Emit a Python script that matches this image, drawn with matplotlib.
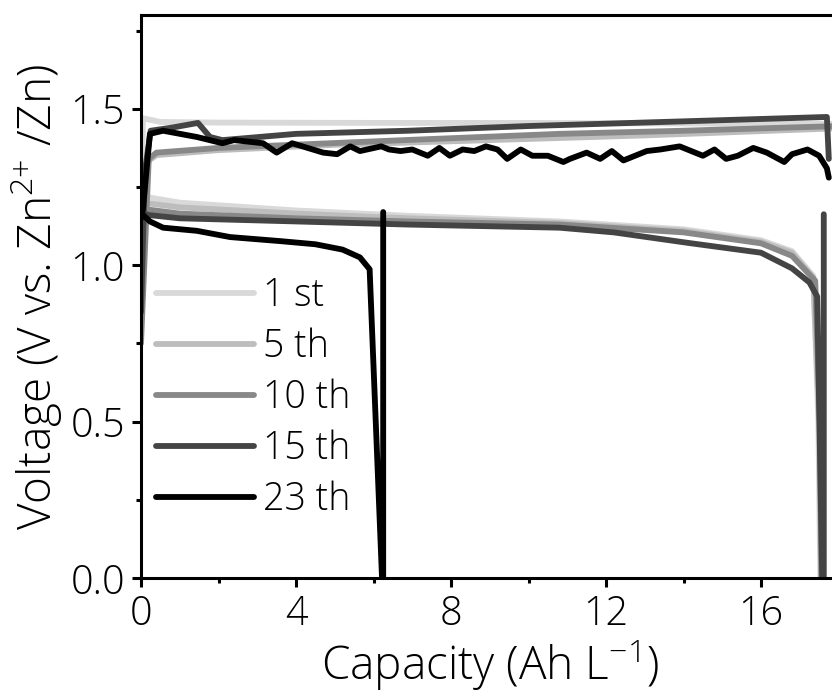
import matplotlib
matplotlib.use("Agg")
import matplotlib.pyplot as plt
from matplotlib.ticker import MultipleLocator

plt.rcParams['font.family'] = ['Open Sans', 'DejaVu Sans']
plt.rcParams['font.weight'] = 'light'
plt.rcParams['axes.labelweight'] = 'light'
plt.rcParams['mathtext.default'] = 'regular'

# Cycle labels and grey levels
cycles = ["1 st", "5 th", "10 th", "15 th", "23 th"]
colors = ["#d9d9d9", "#bdbdbd", "#888888", "#444444", "#000000"]

# Charge curves (capacity in Ah/L, voltage in V)
ch_cap_1 = [0, 0.05, 0.5, 2, 6, 10, 14, 18]
ch_v_1 = [1.10, 1.47, 1.458, 1.456, 1.455, 1.455, 1.453, 1.452]

ch_cap_5 = [0, 0.15, 0.4, 2, 5, 9, 13, 18]
ch_v_5 = [0.80, 1.33, 1.352, 1.368, 1.385, 1.40, 1.415, 1.438]

ch_cap_10 = [0, 0.2, 0.4, 2, 6.8, 10.8, 14, 18]
ch_v_10 = [0.75, 1.34, 1.36, 1.375, 1.40, 1.42, 1.43, 1.445]

ch_cap_15 = [0, 0.1, 0.25, 0.8, 1.47, 1.78, 2.1, 4, 6.9, 10, 14, 17.7, 17.75]
ch_v_15 = [0.85, 1.30, 1.43, 1.44, 1.455, 1.41, 1.40, 1.42, 1.43, 1.445, 1.46, 1.474, 1.34]

ch_cap_23 = [0, 0.05, 0.23, 0.57, 1.44, 2.1, 2.4, 3.15, 3.5, 3.9, 4.7, 5.06, 5.4,
             5.65, 6.2, 6.4, 6.7, 7.0, 7.4, 7.7, 7.97, 8.3, 8.6, 8.9, 9.2, 9.45,
             9.8, 10.1, 10.5, 10.9, 11.07, 11.5, 11.85, 12.15, 12.45, 13.05, 13.4,
             13.9, 14.5, 14.8, 15.1, 15.4, 15.8, 16.15, 16.6, 16.8, 17.2, 17.5,
             17.7, 17.75]
ch_v_23 = [1.15, 1.18, 1.42, 1.43, 1.41, 1.39, 1.40, 1.39, 1.36, 1.39, 1.36, 1.355,
           1.38, 1.365, 1.38, 1.37, 1.365, 1.37, 1.35, 1.375, 1.35, 1.37, 1.365,
           1.38, 1.37, 1.34, 1.37, 1.35, 1.35, 1.33, 1.34, 1.36, 1.34, 1.365,
           1.335, 1.365, 1.37, 1.38, 1.35, 1.37, 1.34, 1.35, 1.375, 1.36, 1.33,
           1.355, 1.37, 1.35, 1.31, 1.28]

# Discharge curves
dis_cap_1 = [0, 0.05, 1, 4, 6.9, 10.8, 14, 16, 16.8, 17.35, 17.48, 17.53]
dis_v_1 = [1.23, 1.22, 1.20, 1.175, 1.158, 1.14, 1.115, 1.08, 1.045, 0.965, 0.5, 0.0]

dis_cap_5 = [0, 0.05, 1, 4, 6.9, 10.8, 14, 16, 16.8, 17.35, 17.5, 17.55]
dis_v_5 = [1.21, 1.20, 1.185, 1.165, 1.15, 1.135, 1.11, 1.075, 1.04, 0.96, 0.5, 0.0]

dis_cap_10 = [0, 0.05, 1, 4, 6.9, 10.8, 14, 16, 16.8, 17.4, 17.52, 17.56]
dis_v_10 = [1.19, 1.18, 1.165, 1.15, 1.14, 1.13, 1.105, 1.07, 1.03, 0.95, 0.5, 0.0]

dis_cap_15 = [0, 0.05, 0.23, 1, 4, 6.9, 10.8, 12.2, 14.2, 16, 16.8, 17.25, 17.45,
              17.58, 17.62, 17.62]
dis_v_15 = [1.17, 1.165, 1.16, 1.15, 1.14, 1.13, 1.12, 1.105, 1.07, 1.04, 0.99,
            0.945, 0.90, 0.0, 0.0, 1.163]

dis_cap_23 = [0, 0.03, 0.23, 0.57, 1.44, 2.3, 3.6, 4.5, 5.2, 5.65, 5.9, 6.22, 6.25, 6.25]
dis_v_23 = [1.17, 1.163, 1.14, 1.12, 1.11, 1.09, 1.077, 1.067, 1.05, 1.025, 0.987,
            0.0, 0.0, 1.17]

charge = [(ch_cap_1, ch_v_1), (ch_cap_5, ch_v_5), (ch_cap_10, ch_v_10),
          (ch_cap_15, ch_v_15), (ch_cap_23, ch_v_23)]
discharge = [(dis_cap_1, dis_v_1), (dis_cap_5, dis_v_5), (dis_cap_10, dis_v_10),
             (dis_cap_15, dis_v_15), (dis_cap_23, dis_v_23)]

fig = plt.figure(figsize=(8.32, 6.93), dpi=100)
ax = fig.add_axes([141 / 832, 115 / 693, 697.5 / 832, 563 / 693])

lw = 4.2
for lab, col, (cc, cv), (dc, dv) in zip(cycles, colors, charge, discharge):
    ax.plot(cc, cv, color=col, lw=lw, solid_capstyle='round', solid_joinstyle='round',
            label=lab)
    ax.plot(dc, dv, color=col, lw=lw, solid_capstyle='round', solid_joinstyle='round')

ax.set_xlim(0, 18)
ax.set_ylim(0, 1.8)
ax.xaxis.set_major_locator(MultipleLocator(4))
ax.xaxis.set_minor_locator(MultipleLocator(2))
ax.yaxis.set_major_locator(MultipleLocator(0.5))
ax.yaxis.set_minor_locator(MultipleLocator(0.25))
ax.set_yticks([0, 0.5, 1.0, 1.5])
ax.set_yticklabels(["0.0", "0.5", "1.0", "1.5"])

for s in ax.spines.values():
    s.set_linewidth(2.2)
ax.tick_params(which='major', direction='out', length=6.5, width=2.2,
               labelsize=28.5, pad=5)
ax.tick_params(which='minor', direction='out', length=3.5, width=2.2)
ax.tick_params(axis='y', which='major', pad=5)

ax.set_xlabel("Capacity (Ah L$^{-1}$)", fontsize=33, fontweight='light', labelpad=2)
ax.set_ylabel("Voltage (V vs. Zn$^{2{+}}$ /Zn)", fontsize=33, fontweight='light',
              labelpad=4)

ax.legend(loc='upper left', bbox_to_anchor=(0.022, 0.535), frameon=False,
          fontsize=27, handlelength=2.6, handletextpad=0.25, labelspacing=0.33,
          borderpad=0, borderaxespad=0)

fig.savefig("out.png", dpi=100)
